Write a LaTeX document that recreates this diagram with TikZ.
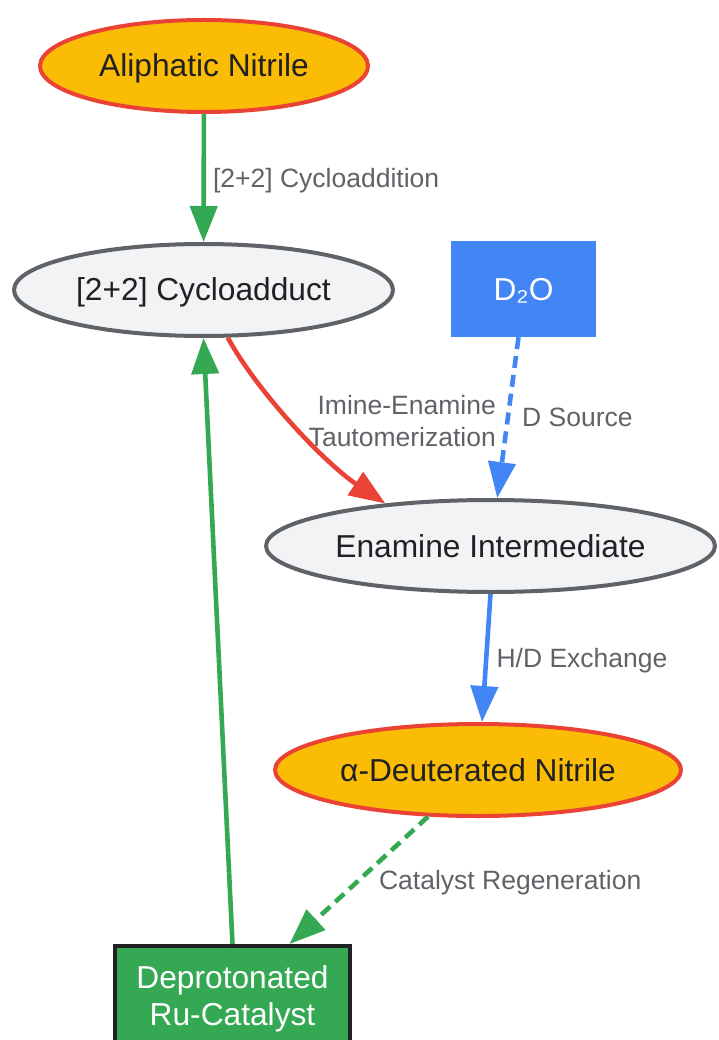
\documentclass[tikz,border=0pt]{standalone}
\usepackage{fontspec}
\setmainfont{Liberation Sans}
\usepackage{tikz}
\usetikzlibrary{positioning,arrows.meta,shapes.geometric}

\definecolor{gyellow}{HTML}{FBBC05}
\definecolor{gred}{HTML}{EA4335}
\definecolor{ggreen}{HTML}{34A853}
\definecolor{gblue}{HTML}{4285F4}
\definecolor{glight}{HTML}{F1F3F4}
\definecolor{ggray}{HTML}{5F6368}
\definecolor{gdark}{HTML}{202124}

\begin{document}
\begin{tikzpicture}[x=1pt,y=-1pt,
    nodefont/.style={font=\fontsize{31.7}{37}\selectfont},
    oneline/.style={nodefont, text height=28.7pt, text depth=6.7pt},
    nitrile/.style={ellipse, draw=gred, fill=gyellow, line width=4pt, text=gdark,
        inner sep=0pt, minimum height=92pt, oneline},
    interm/.style={ellipse, draw=ggray, fill=glight, line width=4pt, text=gdark,
        inner sep=0pt, minimum height=92pt, oneline},
    reagent/.style={rectangle, fill=gblue, text=white, inner sep=0pt,
        minimum width=145pt, minimum height=96pt, oneline},
    catbox/.style={rectangle, draw=gdark, fill=ggreen, text=white, line width=4pt,
        align=center, inner sep=0pt, minimum width=235pt, minimum height=106pt, nodefont},
    lblfont/.style={text=ggray, inner sep=2pt, font=\fontsize{26.5}{32}\selectfont},
    elabel/.style={lblfont, text height=24pt, text depth=5.6pt},
    link/.style={line width=4.6pt, -{Triangle[length=36pt,width=27pt]}},
    dashlink/.style={link, dash pattern=on 12pt off 7pt}
]
\useasboundingbox (0,0) rectangle (718,1040);
\clip (0,0) rectangle (718,1040);

% Nodes
\node[nitrile, minimum width=328pt] (aln) at (204,66) {Aliphatic Nitrile};
\node[interm, minimum width=379pt] (cyc) at (203.5,290) {[2+2] Cycloadduct};
\node[reagent] (d2o) at (523.5,289) {D₂O};
\node[interm, minimum width=449pt] (ena) at (490.5,546) {Enamine Intermediate};
\node[nitrile, minimum width=406pt] (adn) at (478,770) {α-Deuterated Nitrile};
\node[catbox] (ru) at (232.5,999) {Deprotonated\\Ru-Catalyst};

% Edges
\draw[link, ggreen] (aln) -- node[elabel, right=5pt] (lblcyc) {[2+2] Cycloaddition} (cyc);

\draw[link, gred] (cyc.-63) .. controls +(30,55) and +(-60,-40) .. (ena.158);
\node[lblfont, align=right, anchor=east] (lbltaut) at (498,421) {Imine-Enamine\\Tautomerization};

\draw[dashlink, gblue] ([xshift=-5pt]d2o.south) -- node[elabel, right=10pt] (lbld) {D Source} (ena.82);

\draw[link, gblue] (ena.south) -- node[elabel, right=6pt] (lblhd) {H/D Exchange} ([xshift=4pt]adn.north);

\draw[dashlink, ggreen] (adn.-137) -- node[elabel, right=16pt] (lblcat) {Catalyst Regeneration} ([xshift=57pt]ru.north);

\draw[link, ggreen] (ru.north) -- (cyc.south);
\end{tikzpicture}
\end{document}
